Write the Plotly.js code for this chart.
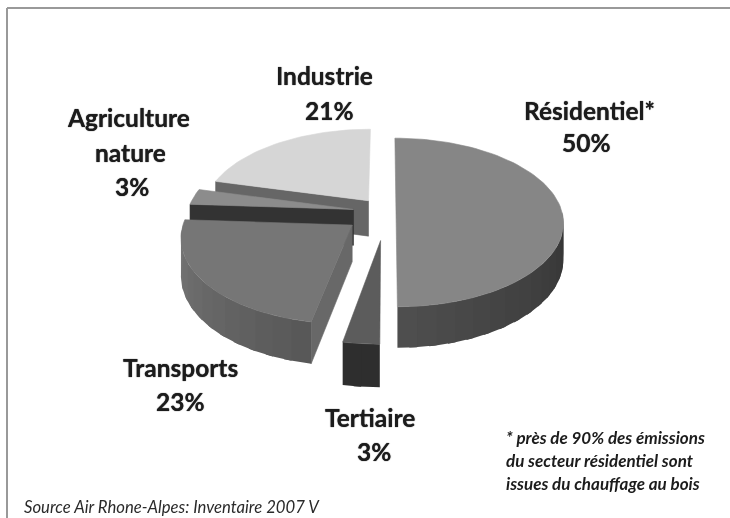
<!DOCTYPE html>
<html><head><meta charset="utf-8">
<script src="https://cdn.plot.ly/plotly-3.0.1.min.js"></script>
<style>html,body{margin:0;padding:0;background:#fff;overflow:hidden}#chart{width:730px;height:518px;filter:blur(0.5px)}</style>
</head><body><div id="chart"></div>
<script>
// Data
const categories = ['Résidentiel*', 'Tertiaire', 'Transports', 'Agriculture nature', 'Industrie'];
const shares = [50, 3, 23, 3, 21];
// Styling of the exploded, tilted pie
const pulls = [10, 55, 42, 33, 29];
const topColors = ['#868686', '#5c5c5c', '#767676', '#8c8c8c', '#d6d6d6'];
const wallStart = ['#333333', '#2e2e2e', '#585858', '#333333', '#666666'];
const wallEnd = ['#4e4e4e', '#2e2e2e', '#767676', '#333333', '#666666'];
const cutColors = ['#444444', '#2e2e2e', '#686868', '#333333', '#666666'];
const paintOrder = [4, 3, 2, 0, 1];

const CX = 386, CY = 212, RX = 166, RY = 83, K = 0.124, DEPTH = 36, STEP = 2;

function project(wx, wy, drop) {
  const s = 1 / (1 - K * wy);
  return [CX + RX * wx * s, CY + RY * wy * s + (drop ? DEPTH * s : 0)];
}
function mix(a, b, t) {
  const p = h => [1, 3, 5].map(i => parseInt(h.substr(i, 2), 16));
  const A = p(a), B = p(b);
  return 'rgb(' + A.map((v, i) => Math.round(v + (B[i] - v) * t)).join(',') + ')';
}
const traces = [];
function addFace(points, color, name, value, lineWidth) {
  const xs = points.map(p => p[0]), ys = points.map(p => p[1]);
  xs.push(xs[0]); ys.push(ys[0]);
  traces.push({
    type: 'scatter', mode: 'lines', x: xs, y: ys, fill: 'toself', fillcolor: color,
    line: {color: color, width: lineWidth === undefined ? 0.6 : lineWidth}, name: name, showlegend: false,
    hoverinfo: 'text', text: name + ' : ' + value + '%'
  });
}
const total = shares.reduce((a, b) => a + b, 0);
let acc = 0;
const slices = shares.map((v, i) => {
  const a0 = acc / total * 360, a1 = (acc + v) / total * 360;
  acc += v;
  return {i, a0, a1};
});
paintOrder.forEach(idx => {
  const {i, a0, a1} = slices[idx];
  const mid = (a0 + a1) / 2 * Math.PI / 180;
  const ox = Math.sin(mid) * pulls[i] / RX, oy = -Math.cos(mid) * pulls[i] / RX;
  const pt = (deg, drop) => {
    const t = deg * Math.PI / 180;
    return project(ox + Math.sin(t), oy - Math.cos(t), drop);
  };
  const apex = drop => project(ox, oy, drop);
  // cut face on the slice's leading edge, where it turns towards the viewer
  if (a0 > 185) {
    addFace([apex(false), pt(a0, false), pt(a0, true), apex(true)], cutColors[i], categories[i], shares[i]);
  }
  // curved outer wall, in shaded strips painted over each other
  const w0 = Math.max(a0, 90), w1 = Math.min(a1, 270);
  if (w1 > w0) {
    const strips = Math.max(1, Math.round((w1 - w0) / 6));
    for (let s = 0; s < strips; s++) {
      const b0 = w0 + (w1 - w0) * s / strips, b1 = s === strips - 1 ? w1 : w0 + (w1 - w0) * (s + 1.4) / strips;
      const top = [], bot = [];
      for (let n = 0; n <= 5; n++) {
        const d = b0 + (b1 - b0) * n / 5;
        top.push(pt(d, false)); bot.unshift(pt(d, true));
      }
      addFace(top.concat(bot), mix(wallStart[i], wallEnd[i], s / Math.max(1, strips - 1)), categories[i], shares[i], 0);
    }
  }
  // top face
  const face = [apex(false)];
  for (let d = a0; d < a1; d += STEP) face.push(pt(d, false));
  face.push(pt(a1, false));
  addFace(face, topColors[i], categories[i], shares[i]);
});

const labelFont = {family: 'Lato, "Open Sans", sans-serif', size: 24.5, color: '#1c1c1c', shadow: '0 0 1px #1c1c1c'};
const noteFont = {family: 'Lato, "Open Sans", sans-serif', size: 17, color: '#1c1c1c'};
function label(text, x, y, font, anchor) {
  return {xref: 'x', yref: 'y', x, y, text, showarrow: false, font: font || labelFont,
          xanchor: anchor || 'center', yanchor: 'middle', align: anchor || 'center'};
}
const annotations = [
  label('<b>Résidentiel*</b>', 589, 110), label('<b>50%</b>', 586, 142),
  label('<b>Industrie</b>', 324, 75), label('<b>21%</b>', 329, 110),
  label('<b>Agriculture</b>', 128, 117), label('<b>nature</b>', 130, 152), label('<b>3%</b>', 132, 186),
  label('<b>Transports</b>', 180, 367), label('<b>23%</b>', 180, 401),
  label('<b>Tertiaire</b>', 370, 417), label('<b>3%</b>', 374, 451),
  label('<b><i>* près de 90% des émissions</i></b>', 504, 437, noteFont, 'left'),
  label('<b><i>du secteur résidentiel sont</i></b>', 504, 460, noteFont, 'left'),
  label('<b><i>issues du chauffage au bois</i></b>', 504, 483, noteFont, 'left'),
  label('<i>Source Air Rhone-Alpes: Inventaire 2007 V</i>', 22, 507,
        {family: 'Lato, "Open Sans", sans-serif', size: 16.7, color: '#2a2a2a'}, 'left')
];
const hidden = {visible: false, fixedrange: true};
const frameLine = {color: '#999999', width: 2};
Plotly.newPlot('chart', traces, {
  width: 730, height: 518, margin: {l: 0, r: 0, t: 0, b: 0},
  paper_bgcolor: '#fff', plot_bgcolor: '#fff', showlegend: false,
  xaxis: Object.assign({range: [0, 730]}, hidden),
  yaxis: Object.assign({range: [518, 0]}, hidden),
  annotations,
  shapes: [
    {type: 'line', xref: 'x', yref: 'y', x0: 7, y0: 8, x1: 730, y1: 8, line: frameLine, layer: 'below'},
    {type: 'line', xref: 'x', yref: 'y', x0: 7, y0: 8, x1: 7, y1: 518, line: frameLine, layer: 'below'}
  ]
}, {displayModeBar: false, staticPlot: true});
</script></body></html>
